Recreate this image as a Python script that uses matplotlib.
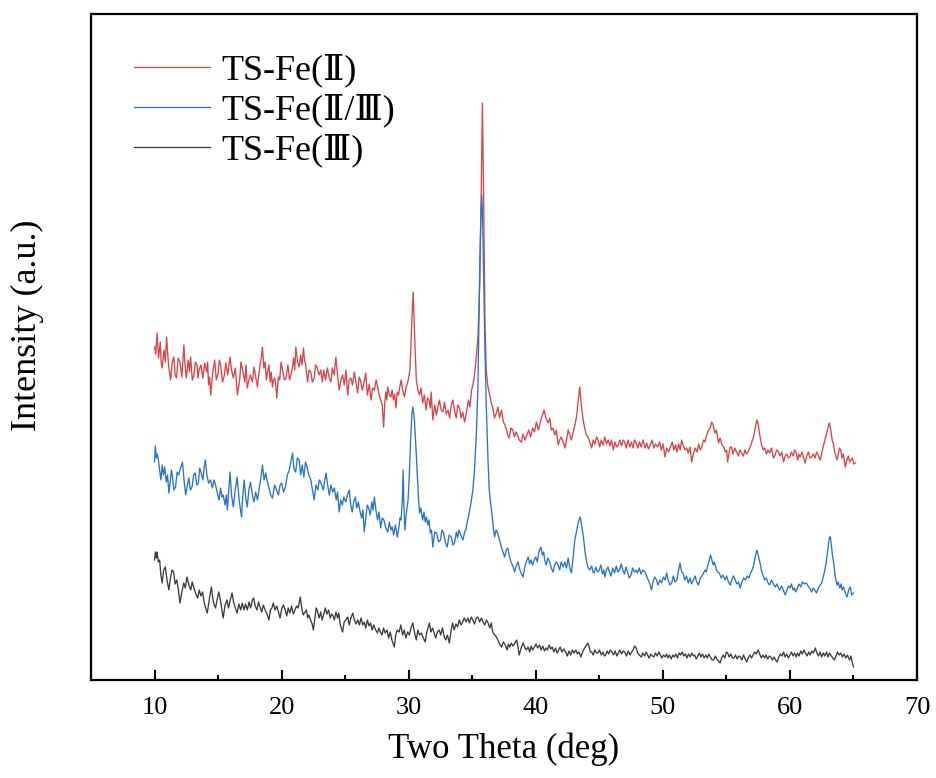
import matplotlib
matplotlib.use("Agg")
import matplotlib.pyplot as plt
from matplotlib.ticker import MultipleLocator

# ---------------- data (intensity in arbitrary units) ----------------
red_pts = [
    (10.00, 333), (10.10, 326), (10.20, 347), (10.32, 322), (10.45, 338), (10.52, 318), (10.60, 312),
    (10.75, 330), (10.85, 318), (10.95, 343), (11.10, 315), (11.26, 300), (11.40, 318), (11.52, 323),
    (11.62, 305), (11.73, 302), (11.86, 322), (12.00, 318), (12.15, 303), (12.31, 335), (12.40, 315),
    (12.50, 302), (12.65, 320), (12.75, 308), (12.84, 323), (12.97, 300), (13.10, 305), (13.22, 318),
    (13.35, 315), (13.42, 302), (13.50, 310), (13.65, 315), (13.80, 302), (13.95, 317), (14.10, 308),
    (14.18, 318), (14.25, 295), (14.34, 303), (14.42, 285), (14.58, 307), (14.73, 320), (14.86, 300),
    (15.00, 307), (15.10, 320), (15.20, 315), (15.35, 298), (15.50, 305), (15.60, 317), (15.76, 305),
    (15.94, 323), (16.06, 310), (16.20, 302), (16.36, 312), (16.52, 285), (16.70, 300), (16.80, 318),
    (16.90, 312), (17.10, 298), (17.20, 315), (17.30, 292), (17.43, 300), (17.55, 305), (17.70, 298),
    (17.83, 313), (17.96, 303), (18.10, 293), (18.20, 305), (18.30, 315), (18.40, 322), (18.49, 333),
    (18.60, 312), (18.70, 318), (18.80, 300), (18.89, 308), (19.00, 315), (19.10, 298), (19.18, 308),
    (19.28, 293), (19.36, 300), (19.45, 302), (19.54, 295), (19.62, 282), (19.74, 303), (19.85, 300),
    (19.96, 318), (20.07, 310), (20.22, 300), (20.35, 302), (20.50, 315), (20.62, 300), (20.73, 305),
    (20.84, 312), (20.95, 322), (21.03, 310), (21.12, 333), (21.25, 318), (21.38, 313), (21.50, 325),
    (21.60, 315), (21.72, 332), (21.80, 320), (21.90, 315), (22.04, 298), (22.16, 310), (22.30, 308),
    (22.42, 298), (22.56, 302), (22.68, 315), (22.80, 312), (22.95, 305), (23.09, 310), (23.20, 298),
    (23.32, 310), (23.45, 300), (23.60, 312), (23.75, 302), (23.88, 298), (24.00, 312), (24.14, 305),
    (24.27, 323), (24.40, 305), (24.53, 290), (24.66, 300), (24.80, 305), (24.93, 295), (25.06, 310),
    (25.20, 285), (25.32, 300), (25.45, 302), (25.58, 295), (25.72, 308), (25.85, 298), (25.98, 287),
    (26.10, 303), (26.20, 300), (26.35, 290), (26.50, 298), (26.62, 307), (26.75, 285), (26.90, 296),
    (27.03, 280), (27.16, 292), (27.30, 290), (27.44, 300), (27.56, 293), (27.68, 285), (27.80, 280),
    (27.92, 275), (28.03, 253), (28.12, 278), (28.20, 288), (28.28, 280), (28.35, 293), (28.48, 285),
    (28.60, 283), (28.70, 290), (28.80, 280), (28.90, 286), (29.00, 272), (29.10, 288), (29.20, 285),
    (29.30, 293), (29.40, 300), (29.53, 290), (29.66, 283), (29.80, 293), (29.93, 298), (30.10, 310),
    (30.25, 360), (30.35, 388), (30.45, 350), (30.60, 300), (30.72, 290), (30.85, 285), (30.97, 292),
    (31.10, 277), (31.23, 285), (31.37, 270), (31.48, 282), (31.60, 280), (31.70, 272), (31.77, 288),
    (31.90, 260), (32.05, 275), (32.18, 265), (32.30, 273), (32.42, 280), (32.55, 270), (32.70, 268),
    (32.82, 278), (32.95, 266), (33.10, 270), (33.22, 262), (33.35, 275), (33.48, 280), (33.60, 270),
    (33.74, 262), (33.87, 275), (34.00, 272), (34.12, 262), (34.25, 268), (34.40, 258), (34.55, 268),
    (34.70, 280), (34.82, 273), (34.95, 290), (35.05, 295), (35.18, 305), (35.30, 320), (35.45, 343),
    (35.60, 400), (35.70, 480), (35.80, 577), (35.90, 480), (36.00, 360), (36.10, 310), (36.24, 293),
    (36.37, 285), (36.50, 277), (36.62, 272), (36.75, 262), (36.90, 267), (37.02, 273), (37.15, 262),
    (37.30, 270), (37.45, 258), (37.58, 255), (37.70, 250), (37.80, 245), (37.90, 242), (38.05, 252),
    (38.20, 250), (38.32, 243), (38.45, 248), (38.55, 245), (38.70, 240), (38.86, 238), (39.00, 246),
    (39.15, 240), (39.30, 245), (39.45, 250), (39.60, 243), (39.75, 252), (39.90, 248), (40.05, 258),
    (40.20, 250), (40.30, 255), (40.45, 262), (40.55, 266), (40.65, 270), (40.80, 262), (40.97, 257),
    (41.10, 262), (41.22, 250), (41.35, 252), (41.50, 245), (41.62, 250), (41.76, 235), (41.88, 240),
    (42.00, 243), (42.15, 238), (42.30, 232), (42.42, 240), (42.55, 250), (42.68, 245), (42.80, 240),
    (42.95, 248), (43.08, 255), (43.20, 263), (43.33, 278), (43.46, 293), (43.58, 275), (43.73, 260),
    (43.85, 252), (43.98, 245), (44.10, 243), (44.25, 238), (44.40, 232), (44.52, 240), (44.65, 236),
    (44.78, 243), (44.90, 240), (45.03, 233), (45.15, 240), (45.30, 235), (45.43, 243), (45.57, 236),
    (45.70, 240), (45.83, 234), (45.96, 240), (46.10, 230), (46.22, 238), (46.36, 233), (46.50, 235),
    (46.62, 240), (46.75, 234), (46.88, 240), (47.00, 238), (47.12, 232), (47.26, 240), (47.40, 233),
    (47.53, 238), (47.66, 232), (47.78, 240), (47.90, 237), (48.03, 232), (48.16, 238), (48.30, 233),
    (48.45, 240), (48.60, 232), (48.73, 237), (48.86, 231), (49.00, 235), (49.14, 240), (49.28, 232),
    (49.42, 236), (49.60, 233), (49.74, 238), (49.88, 230), (50.02, 236), (50.17, 223), (50.30, 232),
    (50.45, 228), (50.60, 233), (50.74, 238), (50.86, 230), (51.00, 235), (51.10, 228), (51.24, 236),
    (51.36, 230), (51.48, 240), (51.60, 235), (51.74, 230), (51.88, 232), (52.00, 227), (52.14, 233),
    (52.27, 218), (52.40, 226), (52.55, 232), (52.70, 228), (52.82, 236), (52.95, 230), (53.06, 233),
    (53.20, 240), (53.32, 238), (53.45, 245), (53.60, 250), (53.72, 252), (53.85, 258), (53.95, 255),
    (54.10, 247), (54.22, 250), (54.38, 237), (54.50, 242), (54.65, 235), (54.80, 233), (54.92, 228),
    (55.02, 230), (55.10, 218), (55.22, 228), (55.30, 233), (55.40, 233), (55.52, 226), (55.66, 232),
    (55.80, 228), (55.94, 224), (56.06, 230), (56.20, 227), (56.34, 224), (56.46, 230), (56.58, 226),
    (56.70, 228), (56.84, 232), (56.96, 236), (57.05, 240), (57.14, 243), (57.27, 252), (57.40, 260),
    (57.50, 256), (57.60, 247), (57.75, 236), (57.90, 230), (58.02, 232), (58.15, 226), (58.28, 230),
    (58.40, 227), (58.55, 232), (58.70, 222), (58.84, 225), (58.96, 230), (59.10, 228), (59.22, 224),
    (59.36, 228), (59.50, 218), (59.62, 224), (59.75, 226), (59.88, 222), (60.00, 223), (60.12, 228),
    (60.25, 224), (60.38, 230), (60.50, 227), (60.62, 220), (60.70, 226), (60.80, 223), (60.95, 228),
    (61.08, 222), (61.20, 217), (61.32, 224), (61.45, 228), (61.58, 222), (61.70, 223), (61.84, 226),
    (61.97, 222), (62.10, 228), (62.25, 224), (62.40, 220), (62.52, 228), (62.65, 235), (62.80, 242),
    (62.95, 250), (63.10, 257), (63.22, 250), (63.32, 240), (63.40, 237), (63.52, 228), (63.62, 224),
    (63.70, 220), (63.80, 226), (63.90, 232), (64.00, 230), (64.10, 222), (64.20, 226), (64.36, 213),
    (64.48, 220), (64.60, 224), (64.70, 218), (64.80, 220), (64.92, 222), (65.02, 216), (65.15, 217),
]

blue_pts = [
    (10.00, 218), (10.06, 234), (10.14, 222), (10.22, 226), (10.30, 220), (10.40, 210), (10.50, 200),
    (10.60, 215), (10.70, 205), (10.80, 213), (10.92, 198), (11.02, 205), (11.13, 187), (11.25, 200),
    (11.33, 210), (11.40, 205), (11.52, 190), (11.65, 193), (11.78, 208), (11.90, 205), (12.05, 212),
    (12.20, 218), (12.32, 200), (12.45, 185), (12.58, 195), (12.70, 202), (12.82, 190), (12.95, 193),
    (13.08, 205), (13.20, 207), (13.32, 195), (13.45, 197), (13.55, 212), (13.65, 208), (13.80, 200),
    (13.90, 212), (14.00, 220), (14.12, 205), (14.25, 197), (14.40, 200), (14.55, 192), (14.68, 200),
    (14.80, 195), (14.93, 188), (15.07, 180), (15.20, 192), (15.30, 183), (15.40, 185), (15.55, 175),
    (15.65, 185), (15.73, 170), (15.84, 190), (15.94, 208), (16.06, 185), (16.20, 173), (16.35, 190),
    (16.50, 203), (16.66, 180), (16.84, 163), (16.95, 185), (17.05, 200), (17.18, 182), (17.30, 173),
    (17.42, 190), (17.55, 198), (17.70, 185), (17.83, 178), (17.96, 188), (18.10, 180), (18.28, 195),
    (18.40, 205), (18.49, 215), (18.62, 200), (18.75, 207), (18.88, 198), (19.00, 192), (19.14, 185),
    (19.28, 182), (19.45, 195), (19.60, 190), (19.75, 185), (19.88, 195), (20.00, 197), (20.15, 188),
    (20.30, 193), (20.45, 205), (20.60, 210), (20.72, 218), (20.86, 227), (20.96, 212), (21.10, 208),
    (21.24, 222), (21.38, 220), (21.50, 205), (21.62, 215), (21.75, 203), (21.88, 218), (22.00, 213),
    (22.14, 205), (22.30, 200), (22.43, 190), (22.56, 180), (22.70, 195), (22.85, 190), (22.97, 200),
    (23.10, 197), (23.28, 190), (23.40, 200), (23.50, 207), (23.62, 195), (23.75, 185), (23.88, 195),
    (24.02, 188), (24.15, 192), (24.30, 180), (24.40, 188), (24.53, 168), (24.65, 180), (24.78, 175),
    (24.90, 183), (25.05, 178), (25.18, 185), (25.32, 190), (25.44, 175), (25.55, 168), (25.67, 178),
    (25.80, 183), (25.92, 172), (26.04, 178), (26.15, 170), (26.30, 162), (26.40, 170), (26.50, 148),
    (26.62, 162), (26.74, 175), (26.85, 172), (26.98, 165), (27.10, 178), (27.20, 170), (27.30, 183),
    (27.42, 170), (27.55, 160), (27.66, 168), (27.80, 152), (27.92, 162), (28.05, 160), (28.20, 152),
    (28.35, 148), (28.48, 158), (28.60, 150), (28.70, 153), (28.82, 145), (28.95, 155), (29.10, 143),
    (29.22, 152), (29.32, 162), (29.40, 160), (29.50, 180), (29.56, 210), (29.62, 175), (29.70, 150),
    (29.80, 165), (29.95, 180), (30.05, 205), (30.15, 240), (30.25, 265), (30.32, 273), (30.38, 268),
    (30.45, 260), (30.58, 230), (30.70, 200), (30.78, 180), (30.85, 167), (30.95, 172), (31.10, 160),
    (31.20, 168), (31.30, 158), (31.40, 163), (31.50, 155), (31.60, 160), (31.70, 147), (31.80, 150),
    (31.90, 133), (32.05, 148), (32.20, 147), (32.35, 138), (32.50, 140), (32.62, 150), (32.75, 147),
    (32.88, 138), (33.03, 133), (33.18, 145), (33.35, 143), (33.48, 135), (33.60, 137), (33.75, 148),
    (33.85, 142), (33.95, 150), (34.10, 145), (34.27, 140), (34.40, 148), (34.50, 150), (34.60, 158),
    (34.70, 163), (34.80, 170), (34.90, 177), (35.05, 190), (35.18, 210), (35.32, 245), (35.45, 293),
    (35.52, 350), (35.60, 420), (35.68, 465), (35.75, 485), (35.82, 460), (35.90, 400), (36.00, 330),
    (36.10, 277), (36.24, 220), (36.34, 190), (36.44, 177), (36.52, 170), (36.60, 160), (36.68, 150),
    (36.76, 143), (36.88, 150), (37.00, 147), (37.15, 140), (37.30, 133), (37.42, 128), (37.55, 123),
    (37.68, 130), (37.80, 132), (37.92, 124), (38.05, 118), (38.20, 114), (38.33, 108), (38.46, 114),
    (38.60, 118), (38.75, 110), (38.88, 106), (39.00, 103), (39.12, 112), (39.25, 118), (39.40, 123),
    (39.52, 116), (39.62, 120), (39.75, 115), (39.88, 120), (40.00, 123), (40.12, 118), (40.25, 128),
    (40.40, 133), (40.52, 125), (40.62, 128), (40.70, 120), (40.82, 115), (40.95, 122), (41.10, 118),
    (41.22, 112), (41.36, 108), (41.48, 115), (41.62, 118), (41.75, 115), (41.88, 110), (42.00, 118),
    (42.15, 113), (42.28, 118), (42.42, 112), (42.55, 122), (42.68, 112), (42.80, 107), (42.92, 120),
    (43.07, 140), (43.20, 148), (43.30, 155), (43.40, 160), (43.50, 163), (43.60, 155), (43.75, 143),
    (43.88, 128), (44.00, 118), (44.12, 112), (44.25, 110), (44.40, 114), (44.50, 108), (44.60, 107),
    (44.72, 113), (44.86, 108), (45.00, 110), (45.12, 115), (45.25, 106), (45.35, 110), (45.44, 103),
    (45.56, 110), (45.68, 113), (45.80, 108), (45.92, 104), (46.06, 112), (46.20, 107), (46.33, 114),
    (46.46, 108), (46.60, 110), (46.72, 116), (46.85, 110), (46.98, 106), (47.10, 113), (47.22, 108),
    (47.36, 102), (47.50, 105), (47.62, 112), (47.75, 108), (47.88, 110), (48.00, 107), (48.14, 112),
    (48.28, 106), (48.42, 110), (48.60, 108), (48.72, 104), (48.85, 100), (48.98, 96), (49.10, 90),
    (49.22, 98), (49.36, 103), (49.50, 100), (49.62, 95), (49.76, 100), (49.90, 97), (50.04, 103),
    (50.18, 100), (50.30, 107), (50.42, 100), (50.56, 95), (50.70, 97), (50.82, 104), (50.96, 98),
    (51.10, 100), (51.24, 110), (51.35, 117), (51.48, 108), (51.60, 107), (51.72, 100), (51.86, 104),
    (52.00, 97), (52.14, 102), (52.26, 96), (52.40, 100), (52.54, 104), (52.66, 98), (52.80, 95),
    (52.94, 102), (53.08, 104), (53.20, 107), (53.32, 110), (53.42, 108), (53.50, 113), (53.62, 118),
    (53.75, 125), (53.86, 120), (53.96, 115), (54.05, 118), (54.18, 112), (54.30, 108), (54.45, 107),
    (54.58, 102), (54.72, 105), (54.90, 100), (55.02, 104), (55.16, 98), (55.30, 95), (55.42, 100),
    (55.56, 104), (55.70, 100), (55.82, 96), (55.96, 98), (56.08, 92), (56.22, 98), (56.36, 102),
    (56.50, 100), (56.64, 104), (56.78, 102), (56.90, 107), (57.02, 110), (57.15, 115), (57.28, 124),
    (57.40, 130), (57.52, 124), (57.65, 117), (57.78, 108), (57.90, 104), (58.00, 100), (58.14, 102),
    (58.28, 97), (58.40, 95), (58.55, 100), (58.70, 96), (58.84, 93), (58.98, 96), (59.10, 92),
    (59.20, 90), (59.34, 94), (59.48, 90), (59.63, 85), (59.76, 90), (59.88, 94), (60.00, 92),
    (60.12, 96), (60.24, 90), (60.36, 92), (60.45, 88), (60.58, 92), (60.72, 96), (60.85, 93),
    (60.98, 98), (61.12, 96), (61.30, 97), (61.42, 94), (61.56, 92), (61.70, 88), (61.84, 92),
    (61.96, 90), (62.10, 87), (62.24, 92), (62.38, 95), (62.50, 97), (62.62, 103), (62.75, 110),
    (62.86, 118), (62.95, 127), (63.05, 138), (63.12, 143), (63.18, 143), (63.26, 135), (63.35, 124),
    (63.45, 117), (63.55, 105), (63.62, 100), (63.70, 95), (63.80, 98), (63.92, 92), (64.02, 96),
    (64.10, 90), (64.22, 93), (64.36, 87), (64.50, 83), (64.62, 90), (64.75, 93), (64.86, 85),
    (65.00, 87),
]

black_pts = [
    (10.00, 120), (10.07, 128), (10.14, 122), (10.20, 128), (10.30, 118), (10.40, 120), (10.50, 105),
    (10.60, 97), (10.72, 110), (10.85, 113), (10.98, 100), (11.13, 90), (11.25, 102), (11.38, 110),
    (11.50, 108), (11.62, 96), (11.75, 100), (11.88, 90), (12.00, 77), (12.15, 88), (12.30, 97),
    (12.42, 92), (12.55, 103), (12.70, 95), (12.85, 90), (12.97, 98), (13.10, 92), (13.25, 86),
    (13.40, 82), (13.52, 90), (13.65, 84), (13.78, 88), (13.90, 78), (14.02, 72), (14.15, 67),
    (14.30, 80), (14.47, 93), (14.60, 80), (14.70, 75), (14.80, 72), (14.92, 80), (15.05, 88),
    (15.18, 80), (15.30, 70), (15.40, 62), (15.55, 75), (15.70, 80), (15.82, 72), (15.96, 80),
    (16.10, 87), (16.22, 78), (16.36, 72), (16.50, 67), (16.64, 76), (16.78, 70), (16.90, 77),
    (17.04, 70), (17.16, 76), (17.30, 70), (17.44, 78), (17.56, 72), (17.70, 80), (17.80, 82),
    (17.92, 74), (18.06, 70), (18.18, 78), (18.30, 73), (18.44, 68), (18.56, 75), (18.70, 70),
    (18.85, 66), (19.00, 60), (19.12, 70), (19.24, 72), (19.35, 77), (19.48, 70), (19.62, 74),
    (19.75, 68), (19.88, 62), (20.02, 72), (20.15, 75), (20.28, 70), (20.40, 64), (20.52, 72),
    (20.65, 67), (20.78, 74), (20.92, 66), (21.05, 70), (21.18, 74), (21.30, 72), (21.47, 83),
    (21.58, 72), (21.70, 65), (21.80, 67), (21.95, 70), (22.05, 62), (22.15, 65), (22.28, 60),
    (22.40, 56), (22.50, 50), (22.62, 62), (22.72, 72), (22.80, 70), (22.95, 62), (23.08, 68),
    (23.18, 60), (23.30, 65), (23.44, 72), (23.56, 66), (23.70, 70), (23.82, 62), (23.95, 66),
    (24.05, 64), (24.15, 60), (24.28, 68), (24.40, 62), (24.50, 67), (24.60, 56), (24.70, 52),
    (24.80, 48), (24.92, 58), (25.05, 60), (25.20, 63), (25.32, 55), (25.45, 62), (25.60, 67),
    (25.72, 60), (25.86, 56), (26.00, 60), (26.12, 55), (26.25, 62), (26.38, 55), (26.50, 58),
    (26.62, 52), (26.75, 60), (26.88, 54), (27.00, 57), (27.12, 50), (27.25, 55), (27.40, 50),
    (27.55, 47), (27.65, 52), (27.78, 48), (27.90, 45), (28.02, 52), (28.15, 47), (28.30, 50),
    (28.42, 42), (28.55, 48), (28.68, 40), (28.78, 36), (28.87, 33), (28.98, 45), (29.10, 50),
    (29.25, 48), (29.38, 55), (29.52, 45), (29.65, 50), (29.78, 42), (29.92, 48), (30.05, 45),
    (30.18, 52), (30.32, 57), (30.45, 48), (30.60, 40), (30.72, 50), (30.85, 45), (31.00, 47),
    (31.15, 42), (31.30, 38), (31.42, 48), (31.52, 52), (31.63, 57), (31.75, 48), (31.88, 52),
    (32.00, 47), (32.12, 42), (32.26, 48), (32.40, 50), (32.52, 45), (32.66, 52), (32.80, 43),
    (32.92, 40), (33.05, 45), (33.20, 37), (33.32, 48), (33.45, 57), (33.58, 50), (33.72, 56),
    (33.85, 53), (33.98, 60), (34.12, 55), (34.25, 58), (34.38, 62), (34.52, 58), (34.66, 62),
    (34.78, 57), (34.92, 63), (35.05, 60), (35.18, 56), (35.32, 62), (35.45, 63), (35.58, 58),
    (35.72, 62), (35.85, 58), (35.98, 55), (36.12, 60), (36.25, 57), (36.38, 52), (36.50, 57),
    (36.58, 50), (36.65, 47), (36.78, 45), (36.90, 43), (37.02, 40), (37.15, 36), (37.30, 33),
    (37.45, 38), (37.60, 35), (37.75, 30), (37.85, 36), (37.95, 33), (38.08, 37), (38.20, 34),
    (38.32, 36), (38.50, 40), (38.60, 33), (38.70, 25), (38.85, 32), (39.00, 37), (39.12, 33),
    (39.25, 30), (39.40, 33), (39.52, 28), (39.64, 34), (39.75, 30), (39.90, 33), (40.02, 36),
    (40.15, 32), (40.30, 35), (40.42, 30), (40.55, 34), (40.68, 29), (40.80, 32), (40.92, 30),
    (41.05, 35), (41.18, 31), (41.30, 33), (41.42, 28), (41.56, 32), (41.68, 27), (41.80, 30),
    (41.92, 33), (42.05, 28), (42.20, 31), (42.35, 28), (42.48, 24), (42.62, 29), (42.75, 25),
    (42.88, 30), (43.00, 27), (43.15, 30), (43.28, 26), (43.40, 28), (43.55, 23), (43.68, 28),
    (43.80, 31), (43.95, 34), (44.10, 37), (44.20, 33), (44.30, 28), (44.40, 28), (44.52, 25),
    (44.64, 30), (44.78, 27), (44.90, 27), (45.02, 30), (45.16, 25), (45.30, 28), (45.40, 24),
    (45.50, 25), (45.62, 29), (45.74, 26), (45.86, 30), (46.00, 28), (46.12, 25), (46.25, 29),
    (46.38, 24), (46.50, 27), (46.62, 30), (46.75, 26), (46.88, 29), (47.00, 28), (47.14, 24),
    (47.28, 29), (47.42, 25), (47.55, 28), (47.66, 30), (47.78, 34), (47.90, 32), (48.02, 27),
    (48.15, 25), (48.30, 23), (48.42, 27), (48.56, 24), (48.68, 28), (48.80, 25), (48.92, 22),
    (49.05, 26), (49.18, 24), (49.30, 23), (49.42, 27), (49.55, 24), (49.68, 28), (49.80, 25),
    (49.92, 22), (50.05, 25), (50.18, 23), (50.30, 26), (50.40, 22), (50.52, 25), (50.66, 21),
    (50.78, 25), (50.90, 23), (51.02, 26), (51.15, 22), (51.28, 27), (51.40, 25), (51.52, 28),
    (51.64, 24), (51.78, 26), (51.90, 22), (52.02, 26), (52.15, 23), (52.28, 27), (52.40, 24),
    (52.50, 25), (52.62, 21), (52.75, 24), (52.88, 27), (53.00, 23), (53.12, 26), (53.25, 22),
    (53.38, 25), (53.50, 22), (53.62, 26), (53.75, 23), (53.88, 20), (54.00, 20), (54.12, 24),
    (54.25, 21), (54.38, 19), (54.50, 17), (54.62, 22), (54.75, 25), (54.88, 22), (55.00, 28),
    (55.10, 27), (55.22, 23), (55.35, 26), (55.48, 22), (55.60, 22), (55.72, 25), (55.85, 21),
    (55.98, 24), (56.10, 23), (56.22, 20), (56.35, 25), (56.48, 21), (56.60, 18), (56.72, 22),
    (56.85, 25), (56.98, 22), (57.10, 25), (57.22, 28), (57.35, 26), (57.50, 30), (57.62, 26),
    (57.75, 22), (57.88, 25), (58.00, 22), (58.12, 25), (58.25, 21), (58.38, 24), (58.50, 23),
    (58.62, 20), (58.75, 23), (58.88, 20), (59.00, 18), (59.12, 23), (59.25, 26), (59.38, 24),
    (59.50, 28), (59.62, 23), (59.75, 26), (59.88, 22), (60.00, 25), (60.12, 28), (60.25, 24),
    (60.38, 27), (60.50, 23), (60.60, 27), (60.72, 24), (60.85, 29), (60.98, 26), (61.10, 30),
    (61.22, 27), (61.35, 24), (61.48, 28), (61.60, 25), (61.72, 29), (61.85, 27), (62.00, 32),
    (62.12, 27), (62.25, 24), (62.38, 28), (62.50, 23), (62.62, 27), (62.75, 24), (62.88, 28),
    (63.00, 23), (63.12, 27), (63.25, 24), (63.38, 22), (63.50, 20), (63.62, 24), (63.75, 28),
    (63.88, 25), (64.00, 27), (64.12, 23), (64.25, 26), (64.40, 22), (64.52, 25), (64.62, 22),
    (64.70, 20), (64.80, 24), (64.90, 18), (65.00, 13),
]

red_x = [p[0] for p in red_pts]
red_y = [p[1] for p in red_pts]
blue_x = [p[0] for p in blue_pts]
blue_y = [p[1] for p in blue_pts]
black_x = [p[0] for p in black_pts]
black_y = [p[1] for p in black_pts]

labels = ["TS-Fe(\u2161)", "TS-Fe(\u2161/\u2162)", "TS-Fe(\u2162)"]
colors = ["#d8454a", "#2a74c6", "#3c3c3c"]
x_ticks = [10, 20, 30, 40, 50, 60, 70]

# ---------------- figure ----------------
fig = plt.figure(figsize=(9.36, 7.78), dpi=100)
ax = fig.add_axes([91 / 936, 98 / 778, 826 / 936, 666 / 778])

serif = ["Liberation Serif", "DejaVu Serif", "Noto Sans CJK SC"]

ax.plot(red_x, red_y, color=colors[0], lw=0.95, label=labels[0])
ax.plot(blue_x, blue_y, color=colors[1], lw=0.95, label=labels[1])
ax.plot(black_x, black_y, color=colors[2], lw=0.95, label=labels[2])

ax.set_xlim(5, 70)
ax.set_ylim(0, 666)
ax.set_xticks(x_ticks)
ax.xaxis.set_minor_locator(MultipleLocator(5))
ax.set_yticks([])
ax.tick_params(axis="x", which="major", direction="in", length=7, width=1.5, pad=12,
               top=False, labelsize=19)
ax.tick_params(axis="x", which="minor", direction="in", length=3.6, width=1.5, top=False)
for lab in ax.get_xticklabels():
    lab.set_family(serif)
for s in ax.spines.values():
    s.set_linewidth(1.6)

ax.set_xlabel("Two Theta (deg)", family=serif, fontsize=25, labelpad=10)
ax.set_ylabel("Intensity (a.u.)", family=serif, fontsize=26)
ax.yaxis.set_label_coords(-0.057, 0.533)

leg = ax.legend(loc="upper left", bbox_to_anchor=(0.035, 0.962), frameon=False,
                prop={"family": serif, "size": 26}, handlelength=2.1,
                handletextpad=0.3, labelspacing=0.18, borderaxespad=0)

fig.savefig("out.png", dpi=100)
